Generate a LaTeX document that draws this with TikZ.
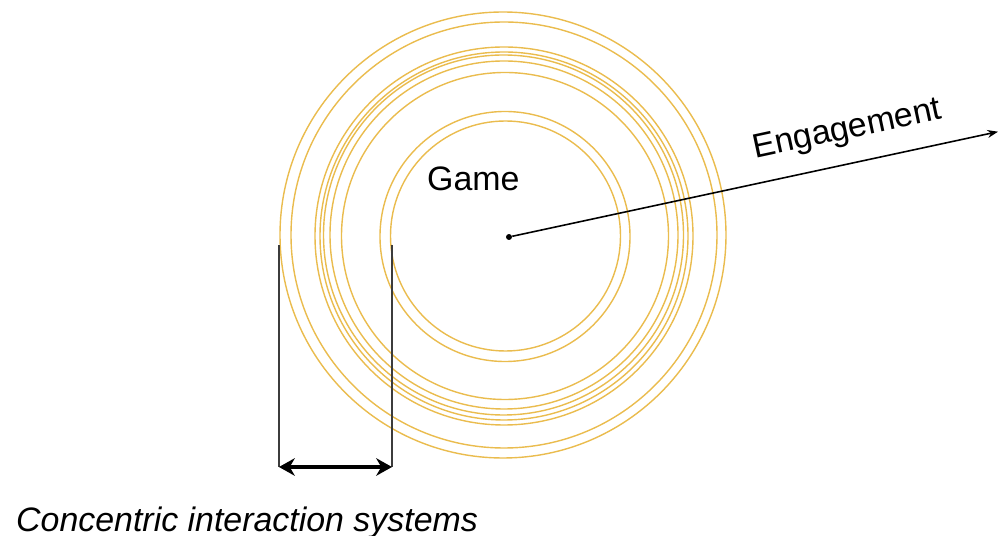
\documentclass[tikz,border=0pt]{standalone}
\usepackage{fontspec}
\setmainfont{Liberation Sans}
\usetikzlibrary{arrows.meta}
\definecolor{ringgold}{RGB}{234,188,78}
\definecolor{darkline}{RGB}{60,60,60}

\begin{document}
\begin{tikzpicture}[x=0.02cm,y=0.02cm,font=\fontsize{19.3}{23}\selectfont]
  \useasboundingbox (-509,-299) rectangle (490,237);
  % rings
  \foreach \dx/\dy/\r in {-6/2/223, -5/2/213, -5/1/189, -5/1/184, -5.5/2/180, -5/2/174, -4/1/163.5, -4/0.5/125, -3.5/1/115}
    \draw[ringgold,line width=0.8pt] (\dx,\dy) circle[radius=\r];
  \node[circle,fill,inner sep=0pt,minimum size=3.4pt] (core) at (0,0) {};
  \coordinate (tip) at (489,105.3);
  \draw[-{Stealth[length=6pt,width=4.5pt]},line width=0.9pt] (core) -- (tip);
  \node[rotate=12.15,anchor=base west] (eng) at (240,77) {Engagement};
  \node[anchor=base west] (game) at (-88,46) {Game};
  % width marker
  \coordinate (a1) at (-230,-8); \coordinate (a2) at (-230,-230);
  \coordinate (b1) at (-117,-8); \coordinate (b2) at (-117,-230);
  \draw[darkline,line width=0.7pt] (a1) -- (a2); \draw[darkline,line width=0.7pt] (b1) -- (b2);
  \draw[{Stealth[length=9pt,width=10pt]}-{Stealth[length=9pt,width=10pt]},line width=1.8pt] (a2) -- (b2);
  \node[anchor=base west,font=\fontsize{19.3}{23}\selectfont\itshape] (sys) at (-499,-294) {Concentric interaction systems};
\end{tikzpicture}
\end{document}
